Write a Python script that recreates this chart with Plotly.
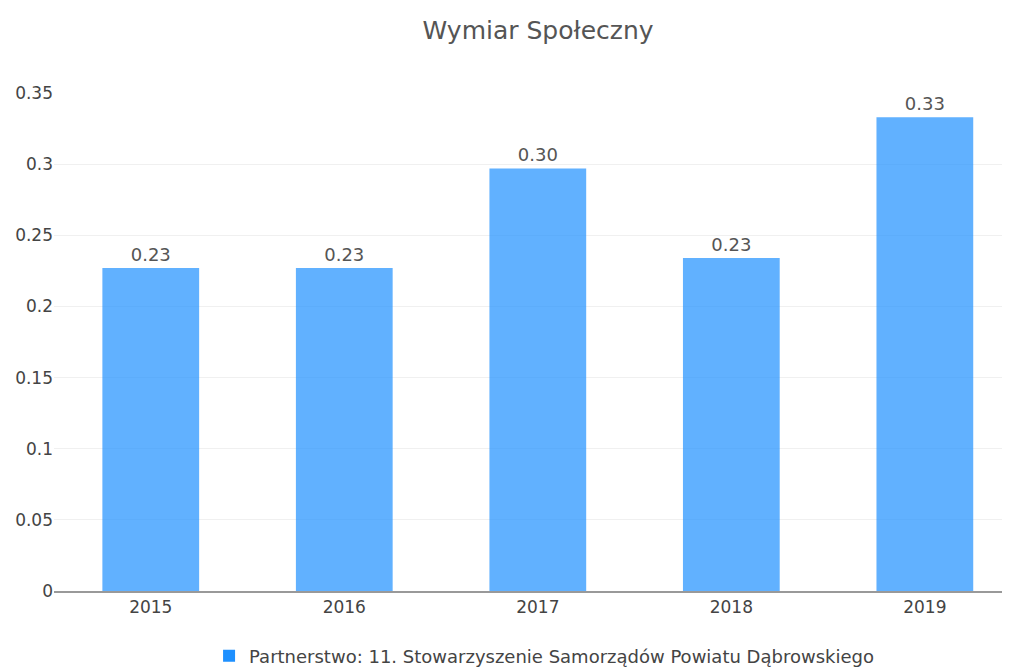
import plotly.graph_objects as go

years = ["2015", "2016", "2017", "2018", "2019"]
values = [0.227, 0.227, 0.297, 0.234, 0.333]
series_name = "Partnerstwo: 11. Stowarzyszenie Samorządów Powiatu Dąbrowskiego"
title_text = "Wymiar Społeczny"

fig = go.Figure()
fig.add_trace(go.Bar(
    x=years, y=values, name=series_name,
    marker=dict(color="#1e90ff", opacity=0.7, line=dict(width=0)),
    text=[f"{v:.2f}" for v in values], textposition="outside",
    textfont=dict(size=18, color="#555"), cliponaxis=False,
    showlegend=True,
))
fig.update_layout(
    width=1002, height=662,
    title=dict(text=title_text, x=0.529, xanchor="center", xref="container",
               y=0.967, yanchor="middle", yref="container",
               font=dict(size=25, color="#555")),
    font=dict(family="DejaVu Sans", color="#555", size=17),
    plot_bgcolor="white", paper_bgcolor="white",
    margin=dict(l=46, r=0, t=85, b=79),
    bargap=0.5,
    xaxis=dict(range=[-0.5, 4.44], showline=True, linecolor="#999", linewidth=2,
               tickfont=dict(size=17, color="#444"), showgrid=False, ticks=""),
    yaxis=dict(range=[0, 0.35], tickvals=[0, 0.05, 0.1, 0.15, 0.2, 0.25, 0.3, 0.35],
               ticktext=["0", "0.05", "0.1", "0.15", "0.2", "0.25", "0.3", "0.35"],
               showgrid=True, gridcolor="#f0f0f0", zeroline=False,
               tickfont=dict(size=17, color="#444"), ticks=""),
    legend=dict(orientation="h", x=0.535, xanchor="center", xref="container",
                y=0.021, yanchor="middle", yref="container",
                font=dict(size=18, color="#444")),
)
fig.write_html("out.html")
